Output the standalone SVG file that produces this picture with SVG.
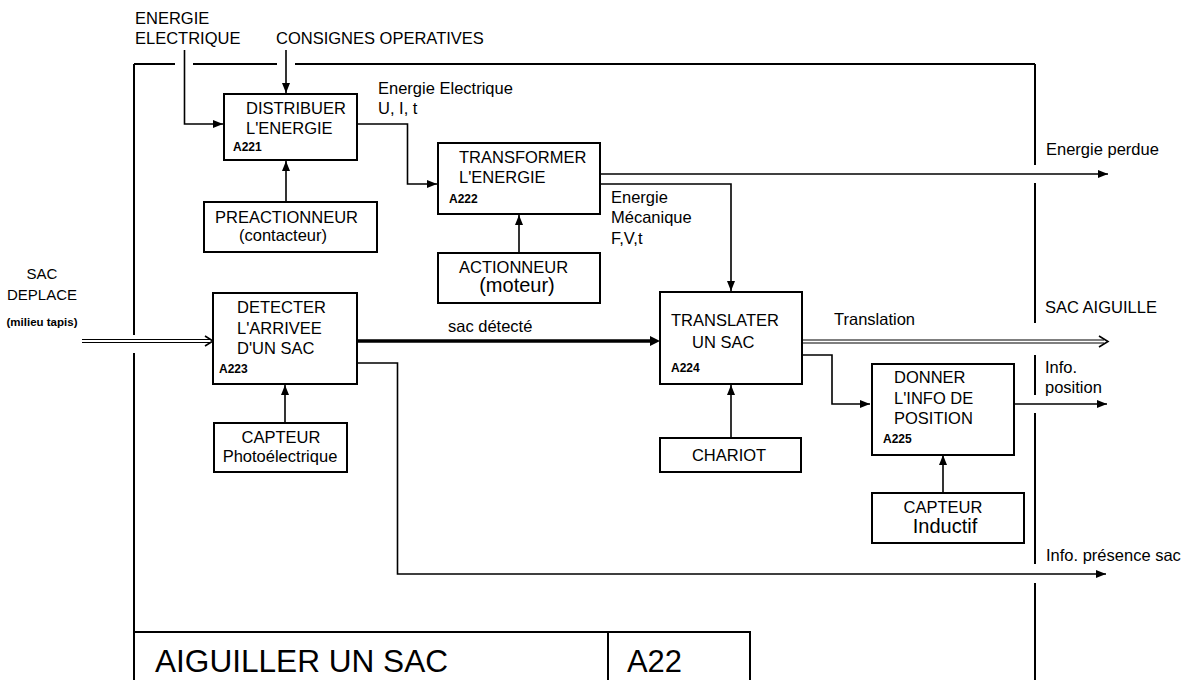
<svg xmlns="http://www.w3.org/2000/svg" width="1188" height="680" viewBox="0 0 1188 680">
  <style>
    text { font-family: "Liberation Sans", Arial, sans-serif; fill: #000; }
    .t { font-size: 16.5px; }
    .big { font-size: 20px; }
    .code { font-size: 12px; font-weight: bold; }
    .small { font-size: 11.5px; font-weight: bold; }
    .box { fill: #fff; stroke: #000; stroke-width: 2; }
    .frame { fill: none; stroke: #000; stroke-width: 2; }
    .ln { fill: none; stroke: #000; stroke-width: 1.6; }
    .thin { fill: none; stroke: #000; stroke-width: 1.2; }
    .thick { fill: none; stroke: #000; stroke-width: 3.5; }
    .mid { text-anchor: middle; }
  </style>
  <defs>
    <marker id="arr" markerUnits="userSpaceOnUse" markerWidth="10" markerHeight="8" refX="10" refY="4" orient="auto">
      <path d="M0,0 L10,4 L0,8 z" fill="#000"/>
    </marker>
  </defs>

  <rect width="1188" height="680" fill="#fff"/>

  <!-- context frame of the A22 activity -->
  <g id="frame" class="frame">
    <path d="M134,64 H175 M193,64 H277 M295,64 H1035"/>
    <path d="M1035,64 V165 M1035,183 V323 M1035,355 V395 M1035,413 V564 M1035,583 V681"/>
    <path d="M134,64 V335 M134,353 V681"/>
  </g>

  <g id="title">
    <rect class="frame" x="134" y="632" width="616" height="52"/>
    <line class="frame" x1="608" y1="632" x2="608" y2="681"/>
    <text x="155" y="672" font-size="31" textLength="293" lengthAdjust="spacingAndGlyphs">AIGUILLER  UN  SAC</text>
    <text x="627" y="672" font-size="31" textLength="55" lengthAdjust="spacingAndGlyphs">A22</text>
  </g>

  <!-- external inputs / outputs labels -->
  <g id="labels" class="t">
    <text x="135" y="23.5">ENERGIE</text>
    <text x="135" y="43.5">ELECTRIQUE</text>
    <text x="276" y="43.5">CONSIGNES OPERATIVES</text>
    <text x="378" y="94">Energie Electrique</text>
    <text x="378" y="114">U, I, t</text>
    <text x="611" y="203">Energie</text>
    <text x="611" y="223">Mécanique</text>
    <text x="611" y="244">F,V,t</text>
    <text x="1046" y="155">Energie perdue</text>
    <text x="42" y="279" class="mid" font-size="15">SAC</text>
    <text x="42" y="300" class="mid" font-size="15">DEPLACE</text>
    <text x="42" y="326" class="mid small">(milieu tapis)</text>
    <text x="448" y="332">sac détecté</text>
    <text x="834" y="325">Translation</text>
    <text x="1045" y="313">SAC AIGUILLE</text>
    <text x="1045" y="373">Info.</text>
    <text x="1045" y="393">position</text>
    <text x="1046" y="561">Info. présence sac</text>
  </g>

  <!-- connectors -->
  <g id="connectors">
    <path class="ln" d="M184.5,50 V124 H223" marker-end="url(#arr)"/>
    <path class="ln" d="M286,50 V93" marker-end="url(#arr)"/>
    <path class="ln" d="M286,202 V161" marker-end="url(#arr)"/>
    <path class="ln" d="M357,124 H407.5 V184 H437" marker-end="url(#arr)"/>
    <path class="ln" d="M519,253 V215" marker-end="url(#arr)"/>
    <path class="ln" d="M600,174 H1108" marker-end="url(#arr)"/>
    <path class="ln" d="M600,184 H731 V291" marker-end="url(#arr)"/>
    <path class="ln" d="M285,423 V385" marker-end="url(#arr)"/>
    <path class="thick" d="M357,341 H652"/>
    <path d="M650,336 L660,341 L650,346 z" fill="#000"/>
    <path class="ln" d="M357,363 H397.5 V574 H1106" marker-end="url(#arr)"/>
    <path class="ln" d="M731,438 V385" marker-end="url(#arr)"/>
    <path class="ln" d="M802,355 H832 V404 H870" marker-end="url(#arr)"/>
    <path class="ln" d="M1014,404 H1107" marker-end="url(#arr)"/>
    <path class="ln" d="M943,493 V455" marker-end="url(#arr)"/>
    <!-- double-line flows of the bag -->
    <path class="thin" d="M82,339.5 H210 M82,342.5 H210"/>
    <path class="ln" d="M205,336 L213,341 L205,346"/>
    <path class="thin" d="M802,340 H1104 M802,343 H1104"/>
    <path class="ln" d="M1099,336 L1108,341.5 L1099,347"/>
  </g>

  <g id="A221">
    <rect class="box" x="224" y="94" width="133" height="66"/>
    <text class="t" x="246" y="114">DISTRIBUER</text>
    <text class="t" x="246" y="134">L'ENERGIE</text>
    <text class="code" x="233" y="151">A221</text>
  </g>

  <g id="preactionneur">
    <rect class="box" x="204" y="202" width="173" height="50"/>
    <text class="t" x="215" y="223">PREACTIONNEUR</text>
    <text class="t mid" x="283" y="241">(contacteur)</text>
  </g>

  <g id="A222">
    <rect class="box" x="438" y="143" width="162" height="71"/>
    <text class="t" x="459" y="163">TRANSFORMER</text>
    <text class="t" x="459" y="183">L'ENERGIE</text>
    <text class="code" x="449" y="203">A222</text>
  </g>

  <g id="actionneur">
    <rect class="box" x="438" y="253" width="162" height="50"/>
    <text class="t" x="459" y="273">ACTIONNEUR</text>
    <text class="big mid" x="517" y="292">(moteur)</text>
  </g>

  <g id="A223">
    <rect class="box" x="213" y="293" width="144" height="91"/>
    <text class="t" x="237" y="313">DETECTER</text>
    <text class="t" x="237" y="334">L'ARRIVEE</text>
    <text class="t" x="237" y="354">D'UN SAC</text>
    <text class="code" x="219" y="373">A223</text>
  </g>

  <g id="capteur-photo">
    <rect class="box" x="214" y="423" width="133" height="49"/>
    <text class="t mid" x="281" y="443">CAPTEUR</text>
    <text class="t mid" x="280" y="462">Photoélectrique</text>
  </g>

  <g id="A224">
    <rect class="box" x="660" y="292" width="142" height="92"/>
    <text class="t" x="671" y="326">TRANSLATER</text>
    <text class="t" x="692" y="348">UN SAC</text>
    <text class="code" x="671" y="372">A224</text>
  </g>

  <g id="chariot">
    <rect class="box" x="660" y="438" width="141" height="34"/>
    <text class="t mid" x="729" y="461">CHARIOT</text>
  </g>

  <g id="A225">
    <rect class="box" x="872" y="364" width="142" height="91"/>
    <text class="t" x="894" y="383">DONNER</text>
    <text class="t" x="894" y="404">L'INFO DE</text>
    <text class="t" x="894" y="424">POSITION</text>
    <text class="code" x="883" y="443">A225</text>
  </g>

  <g id="capteur-inductif">
    <rect class="box" x="872" y="493" width="152" height="50"/>
    <text class="t mid" x="943" y="513">CAPTEUR</text>
    <text class="big mid" x="945" y="533">Inductif</text>
  </g>
</svg>
